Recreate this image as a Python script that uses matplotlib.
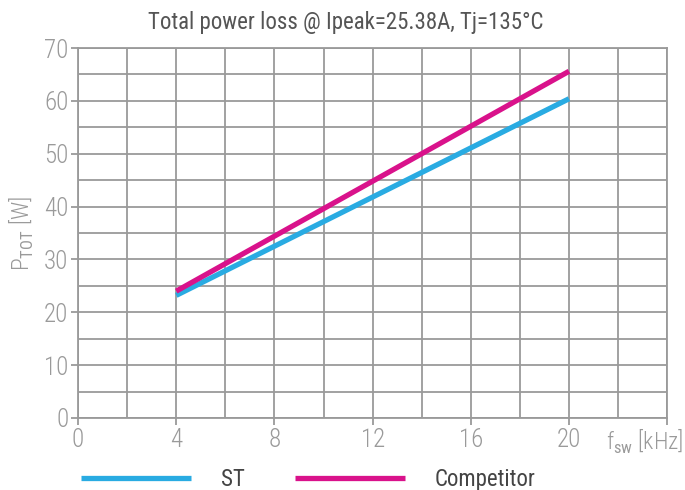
import matplotlib
matplotlib.use('Agg')
import matplotlib.pyplot as plt
import numpy as np

# values
fsw = [4, 20]
st = [23.2, 60.4]
competitor = [24.0, 65.6]
xticks = [0, 4, 8, 12, 16, 20]
yticks = [0, 10, 20, 30, 40, 50, 60, 70]

fam = ['Roboto Condensed', 'Roboto', 'DejaVu Sans']
plt.rcParams['font.family'] = fam
plt.rcParams['mathtext.fontset'] = 'custom'
plt.rcParams['mathtext.rm'] = 'Roboto Condensed'

gray = '#9a9a9a'
fig = plt.figure(figsize=(6.85, 4.9), dpi=100)
ax = fig.add_axes([0.114, 0.147, 0.86, 0.755])

ax.plot(fsw, st, color='#29abe2', lw=3.8, label='ST', solid_capstyle='butt')
ax.plot(fsw, competitor, color='#d9128b', lw=3.8, label='Competitor', solid_capstyle='butt')

ax.set_xlim(0, 24)
ax.set_ylim(0, 70)
ax.set_xticks(np.arange(0, 25, 2), minor=True)
ax.set_yticks(np.arange(0, 71, 5), minor=True)
ax.set_xticks(xticks + [24])
ax.set_xticklabels([str(t) for t in xticks] + [''])
ax.set_yticks(yticks)
ax.grid(True, which='both', color=gray, lw=1.3)
ax.set_axisbelow(True)
for s in ax.spines.values():
    s.set_color(gray)
    s.set_linewidth(1.3)
ax.tick_params(which='major', length=5, width=1.3, color=gray, labelcolor=gray,
               labelsize=18, pad=2)
ax.tick_params(which='minor', length=0)
for lab in ax.get_xticklabels() + ax.get_yticklabels():
    lab.set_fontweight('light')

fig.text(0.505, 0.955, 'Total power loss @ Ipeak=25.38A, Tj=135°C', fontsize=16.5,
         color='#555555', ha='center', va='center')
ax.set_ylabel(r'P$_{\rm TOT}$ [W]', fontsize=17, color=gray, labelpad=6, fontweight='light')
fig.text(0.998, 0.083, r'f$_{\rm sw}$ [kHz]', fontsize=17, color=gray, ha='right',
         va='baseline', fontweight='light')

fig.legend(loc='center left', bbox_to_anchor=(0.088, 0.022), ncol=2, frameon=False,
           fontsize=16.5, handlelength=4.8, columnspacing=2.2, handletextpad=1.3,
           labelcolor='#444444')

plt.savefig('out.png', dpi=100)
